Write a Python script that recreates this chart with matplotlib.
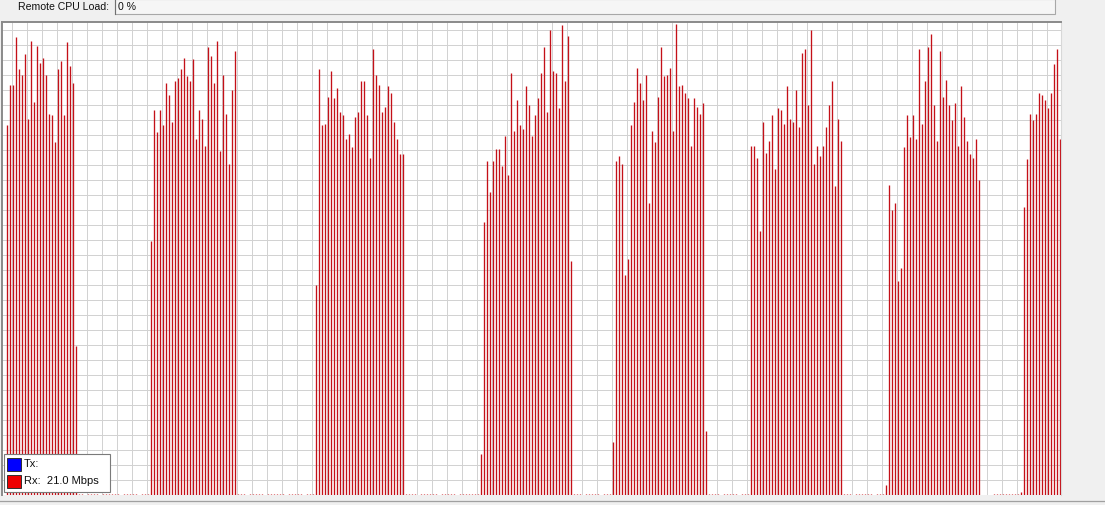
import matplotlib
matplotlib.use("Agg")
import matplotlib.pyplot as plt
import numpy as np
from matplotlib.patches import Rectangle
from matplotlib.lines import Line2D

# Rx throughput samples (Mbps), one per refresh tick
rx_burst_1 = [21.8, 24.2, 24.2, 27.0, 25.1, 24.8, 26.0, 22.2, 26.8, 23.2, 26.5, 25.5,
              25.8, 24.8, 22.5, 22.4, 20.8, 25.1, 25.6, 22.4, 26.7, 25.3, 24.3, 8.8]
rx_idle_1 = [0.06, 0.06, 0.0, 0.06, 0.06, 0.06, 0.06, 0.0, 0.06, 0.06, 0.06, 0.06,
             0.06, 0.06, 0.0, 0.06, 0.06, 0.06, 0.06, 0.06, 0.0, 0.06, 0.06, 0.06]
rx_burst_2 = [15.0, 22.7, 21.4, 22.7, 21.8, 24.3, 23.6, 22.0, 24.4, 24.6, 25.1, 25.8,
              24.7, 24.4, 25.7, 21.0, 22.7, 22.2, 20.6, 26.4, 25.9, 24.3, 26.8, 20.3,
              24.8, 22.5, 19.5, 23.9, 26.2]
rx_idle_2 = [0.06, 0.06, 0.06, 0.0, 0.06, 0.06, 0.06, 0.06, 0.06, 0.0, 0.06, 0.06, 0.06,
             0.06, 0.06, 0.06, 0.0, 0.06, 0.06, 0.06, 0.06, 0.06, 0.0, 0.06, 0.06, 0.06]
rx_burst_3 = [12.4, 25.1, 21.8, 21.9, 23.5, 25.0, 23.4, 24.0, 22.6, 22.4, 21.0, 21.3,
              20.5, 22.3, 22.6, 24.4, 24.4, 22.4, 19.9, 26.3, 24.8, 24.2, 22.6, 22.9,
              24.1, 23.7, 22.0, 21.0, 20.1, 20.1]
rx_idle_3 = [0.06, 0.06, 0.06, 0.06, 0.0, 0.06, 0.06, 0.06, 0.06, 0.06, 0.06, 0.0, 0.06,
             0.06, 0.06, 0.06, 0.06, 0.0, 0.06, 0.06, 0.06, 0.06, 0.06, 0.06, 0.06]
rx_burst_4 = [2.4, 16.1, 19.7, 17.9, 19.7, 20.4, 20.4, 19.4, 21.2, 18.9, 24.9, 21.5,
              23.3, 21.8, 21.6, 24.1, 23.0, 21.2, 22.4, 23.4, 24.9, 26.4, 22.6, 27.4,
              25.0, 24.9, 22.8, 27.7, 24.4, 27.1, 13.8]
rx_idle_4 = [0.06, 0.06, 0.06, 0.0, 0.06, 0.06, 0.06, 0.06, 0.06, 0.0, 0.06, 0.06, 0.06]
rx_burst_5 = [3.1, 19.7, 20.0, 19.5, 13.0, 13.9, 21.8, 23.2, 25.2, 24.3, 23.3, 24.8,
              17.2, 21.5, 20.8, 23.5, 26.4, 24.7, 24.8, 25.2, 21.5, 27.8, 24.1, 24.2,
              23.7, 23.4, 20.6, 23.4, 22.9, 22.5, 23.1, 3.8]
rx_idle_5 = [0.06, 0.06, 0.06, 0.06, 0.0, 0.06, 0.06, 0.06, 0.06, 0.06, 0.0, 0.06, 0.06, 0.06]
rx_burst_6 = [20.6, 20.6, 19.9, 15.6, 22.0, 20.2, 20.9, 22.4, 19.2, 22.8, 22.7, 21.9,
              24.1, 22.2, 22.0, 23.9, 21.7, 26.1, 26.3, 23.0, 27.4, 19.5, 20.6, 20.0,
              20.6, 21.7, 23.0, 24.4, 18.2, 22.2, 20.9]
rx_idle_6 = [0.06, 0.06, 0.06, 0.0, 0.06, 0.06, 0.06, 0.06, 0.06, 0.06, 0.0, 0.06, 0.06, 0.06]
rx_burst_7 = [0.6, 18.3, 16.8, 17.2, 12.6, 13.4, 20.5, 22.4, 21.1, 22.4, 21.0, 26.3,
              21.9, 24.4, 26.4, 27.2, 23.0, 20.9, 26.2, 23.5, 24.5, 23.0, 22.1, 23.1,
              20.6, 24.1, 22.3, 20.9, 20.1, 19.9, 21.0, 18.6]
rx_idle_7 = [0.0, 0.0, 0.0, 0.0, 0.06, 0.06, 0.06, 0.06, 0.06, 0.06, 0.06, 0.06, 0.06, 0.2]
rx_burst_8 = [17.0, 19.8, 22.5, 22.1, 22.5, 23.7, 23.6, 23.3, 22.8, 23.7, 25.4, 26.3, 21.0]

rx_current = "21.0 Mbps"
cpu_load = "0 %"

rx = np.array(rx_burst_1 + rx_idle_1 + rx_burst_2 + rx_idle_2 + rx_burst_3 + rx_idle_3
              + rx_burst_4 + rx_idle_4 + rx_burst_5 + rx_idle_5 + rx_burst_6 + rx_idle_6
              + rx_burst_7 + rx_idle_7 + rx_burst_8)
ticks = np.arange(len(rx))

W, H = 1105, 505
BG = "#f0f0f0"
BAR_RED = "#c41018"
GRID = "#d2d2d2"
FONT = "Liberation Sans"


def fx(x):
    return x / W


def fy(y):
    return 1 - y / H


# plot area in pixels (image coords, top-left origin), kept on whole pixels
left_px, right_px, top_px, bottom_px = 2, 1061, 22, 495
px_per_tick = 3.0
first_bar_px = 6.5      # centre of the first bar's pixel column
first_vgrid_px = 11.5   # centre of the first vertical grid column
y_max = 27.9            # Mbps at the top of the plot area (autoscaled)

fig = plt.figure(figsize=(W / 100, H / 100), dpi=100, facecolor=BG)
ax = fig.add_axes([fx(left_px), fy(bottom_px), fx(right_px - left_px),
                   (bottom_px - top_px) / H])
ax.set_facecolor("white")

xmin = -(first_bar_px - left_px) / px_per_tick
xmax = xmin + (right_px - left_px) / px_per_tick
ax.set_xlim(xmin, xmax)
ax.set_ylim(0, y_max)

# grid every 15 px like the winbox graph
step_x = 15 / px_per_tick
gx0 = xmin + (first_vgrid_px - left_px) / px_per_tick
step_y = y_max / (bottom_px - top_px) * 15
for gx in np.arange(gx0, xmax, step_x):
    ax.axvline(gx, color=GRID, lw=0.72, zorder=1)
for gy in np.arange(step_y, y_max, step_y):
    ax.axhline(gy, color=GRID, lw=0.72, zorder=1)

ax.vlines(ticks, 0, rx, colors=BAR_RED, linewidth=0.95, zorder=2)

ax.set_xticks([])
ax.set_yticks([])
ax.spines["bottom"].set_visible(False)
ax.spines["top"].set_color("#8a8a8a")
ax.spines["top"].set_linewidth(1.4)
ax.spines["left"].set_color("#8a8a8a")
ax.spines["left"].set_linewidth(1.4)
ax.spines["right"].set_color("#d8d8d8")
ax.spines["right"].set_linewidth(0.8)

# header row: Remote CPU Load
fig.text(fx(18), fy(7), "Remote CPU Load:", fontsize=7.6, family=FONT,
         ha="left", va="center", color="#101010")
fig.add_artist(Rectangle((fx(114.5), fy(14)), fx(1055 - 114.5), 15 / H,
                         transform=fig.transFigure, facecolor="#f6f6f6",
                         edgecolor="#a8a8a8", lw=0.8))
fig.add_artist(Line2D([fx(114.5), fx(114.5)], [fy(14), fy(-1)], transform=fig.transFigure,
                      color="#707070", lw=0.8))
fig.text(fx(118), fy(7), cpu_load, fontsize=7.6, family=FONT,
         ha="left", va="center", color="#101010")

# legend box
fig.add_artist(Rectangle((fx(3.5), fy(492)), fx(110 - 3.5), 38 / H,
                         transform=fig.transFigure, facecolor="white",
                         edgecolor="#7a7a7a", lw=0.8, zorder=5))
fig.add_artist(Rectangle((fx(7), fy(470.5)), fx(13.5), 12.5 / H,
                         transform=fig.transFigure, facecolor="#0000ff",
                         edgecolor="#303030", lw=0.7, zorder=6))
fig.add_artist(Rectangle((fx(7), fy(487.5)), fx(13.5), 12.5 / H,
                         transform=fig.transFigure, facecolor="#ee0000",
                         edgecolor="#303030", lw=0.7, zorder=6))
fig.text(fx(23.5), fy(464), "Tx:", fontsize=8, family=FONT, ha="left", va="center",
         color="#101010", zorder=7)
fig.text(fx(23.5), fy(481), "Rx:  " + rx_current, fontsize=8, family=FONT, ha="left",
         va="center", color="#101010", zorder=7)

# status bar separator at the bottom
fig.add_artist(Line2D([0, 1], [fy(501), fy(501)], transform=fig.transFigure,
                      color="#a0a0a0", lw=0.9))

fig.savefig("out.png", dpi=100, facecolor=BG)
